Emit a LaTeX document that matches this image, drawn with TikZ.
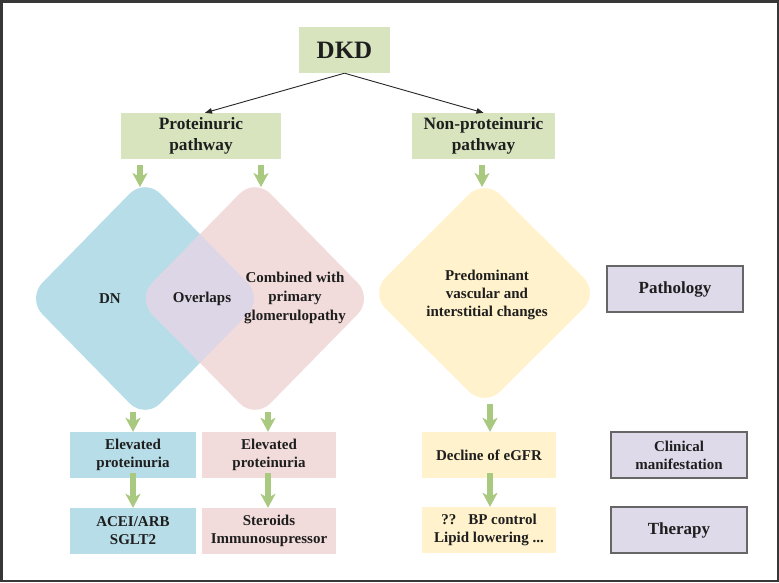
\documentclass[tikz,border=0pt]{standalone}
\usepackage{fontspec}
\setmainfont{Liberation Serif}
\usetikzlibrary{arrows.meta}
\definecolor{gbox}{RGB}{215,228,190}
\definecolor{garr}{RGB}{169,200,128}
\definecolor{bluef}{RGB}{183,222,232}
\definecolor{pinkf}{RGB}{242,220,219}
\definecolor{yelf}{RGB}{255,242,204}
\definecolor{lavf}{RGB}{222,218,234}
\definecolor{ovl}{RGB}{221,214,230}
\definecolor{txt}{RGB}{30,30,30}
\definecolor{frame}{RGB}{55,55,55}
\begin{document}
\begin{tikzpicture}[x=1pt,y=-1pt,
  txtbase/.style={inner sep=0pt, align=center, text=txt},
  t15/.style={txtbase, font=\fontsize{15}{18}\selectfont\bfseries},
  rbox/.style={t15, minimum width=#1, minimum height=46pt},
  gfill/.style={rbox=#1, fill=gbox},
  bfill/.style={rbox=#1, fill=bluef},
  pfill/.style={rbox=#1, fill=pinkf},
  yfill/.style={rbox=#1, fill=yelf},
  lbox/.style={rbox=136pt, fill=lavf, draw=black!60, line width=1.2pt},
  garrow/.style={draw=garr, line width=6pt, -{Stealth[length=14pt,width=15pt,inset=4pt]}},
  karrow/.style={draw=black!85, line width=0.9pt, -{Triangle[length=7pt,width=5.5pt]}},
  dia/.style={rounded corners=22pt}
]
\useasboundingbox (0,0) rectangle (779,582);
\fill[white] (0,0) rectangle (779,582);
\draw[frame, line width=2.5pt] (1.25,1.25) rectangle (777.75,580.75);

% diamonds
\fill[bluef, dia] (145,178) -- (263,298.5) -- (145,419) -- (27,298.5) -- cycle;
\fill[pinkf, dia] (255,178) -- (373,298.5) -- (255,419) -- (137,298.5) -- cycle;
\begin{scope}
  \clip[dia] (145,178) -- (263,298.5) -- (145,419) -- (27,298.5) -- cycle;
  \fill[ovl, dia] (255,178) -- (373,298.5) -- (255,419) -- (137,298.5) -- cycle;
\end{scope}
\fill[yelf, dia] (484.5,179) -- (599,293) -- (484.5,407) -- (370,293) -- cycle;

\node[t15] (dn) at (110,299) {DN};
\node[t15] (ovlp) at (202,299) {Overlaps};
\node[t15, font=\fontsize{15}{19}\selectfont\bfseries] (comb) at (295,298) {Combined with\\primary\\glomerulopathy};
\node[t15] (pred) at (487,295) {Predominant\\vascular and\\interstitial changes};

% top boxes
\node[gfill=91pt, font=\fontsize{25}{28}\selectfont\bfseries] (dkd) at (344.5,50) {DKD};
\node[gfill=160pt, font=\fontsize{17.3}{21.5}\selectfont\bfseries] (prot) at (201,136) {Proteinuric\\pathway};
\node[gfill=143pt, font=\fontsize{17.3}{21.5}\selectfont\bfseries] (nprot) at (483.5,136) {Non-proteinuric\\pathway};

\draw[karrow] (dkd.south) -- ([xshift=4pt]prot.north);
\draw[karrow] (dkd.south) -- (nprot.north);

% lower boxes
\node[bfill=126pt] (ep1) at (133,455) {Elevated\\proteinuria};
\node[pfill=134pt] (ep2) at (269,455) {Elevated\\proteinuria};
\node[bfill=126pt] (acei) at (133,531) {ACEI/ARB\\SGLT2};
\node[pfill=134pt] (ster) at (269,531) {Steroids\\Immunosupressor};
\node[yfill=134pt] (egfr) at (489,455) {Decline of eGFR};
\node[yfill=134pt] (bp) at (489,530) {??\hspace{12pt}BP control\\Lipid lowering ...};

% right labels
\node[lbox, font=\fontsize{17}{20}\selectfont\bfseries] (path) at (675,289) {Pathology};
\node[lbox, font=\fontsize{15}{18}\selectfont\bfseries] (clin) at (679,455) {Clinical\\manifestation};
\node[lbox, font=\fontsize{17}{20}\selectfont\bfseries] (ther) at (679,530) {Therapy};

% green arrows
\coordinate (b1) at (140,187);
\coordinate (b2) at (261,187);
\coordinate (b3) at (482,187);
\draw[garrow] (prot.south -| b1) ++(0,6) -- (b1);
\draw[garrow] (prot.south -| b2) ++(0,6) -- (b2);
\draw[garrow] (nprot.south -| b3) ++(0,6) -- (b3);

\coordinate (m1) at (133,412);
\coordinate (m2) at (268,412);
\coordinate (m3) at (490,404);
\draw[garrow] (m1) -- (ep1.north -| m1);
\draw[garrow] (m2) -- (ep2.north -| m2);
\draw[garrow] (m3) -- (egfr.north -| m3);

\draw[garrow] ([yshift=5pt]ep1.south -| m1) -- (acei.north -| m1);
\draw[garrow] ([yshift=5pt]ep2.south -| m2) -- (ster.north -| m2);
\draw[garrow] ([yshift=5pt]egfr.south -| m3) -- (bp.north -| m3);
\end{tikzpicture}
\end{document}
